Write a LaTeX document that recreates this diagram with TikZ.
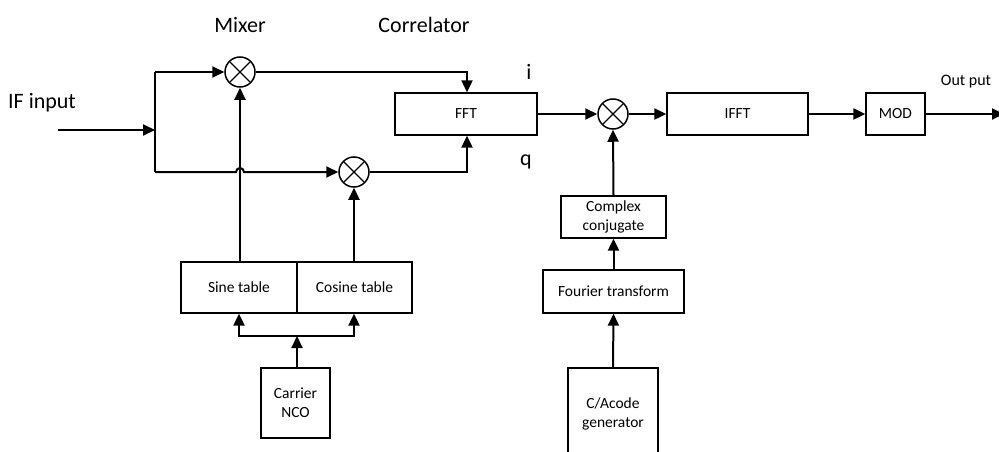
\documentclass[tikz,border=0pt]{standalone}
\usepackage{fontspec}
\setmainfont{Carlito}
\usetikzlibrary{arrows.meta}
\tikzset{
  x=1pt, y=-1pt,
  blk/.style={draw, line width=1.3pt, rectangle, inner sep=0pt, align=center,
    font=\fontsize{15.5}{19}\selectfont},
  mixer/.style={draw, line width=1.5pt, circle, minimum size=30pt, inner sep=0pt,
    path picture={
      \draw[line width=1.3pt] (path picture bounding box.north west) -- (path picture bounding box.south east);
      \draw[line width=1.3pt] (path picture bounding box.south west) -- (path picture bounding box.north east);
    }},
  wire/.style={line width=2pt},
  sig/.style={wire, -{Triangle[length=12pt,width=11pt]}},
  big/.style={font=\fontsize{22}{26}\selectfont},
}
\begin{document}
\begin{tikzpicture}
\useasboundingbox (0,0) rectangle (999,452);

% mixers
\node[mixer] (mix1) at (240,72) {};
\node[mixer] (mix2) at (354,172) {};
\node[mixer] (mix3) at (613,114) {};

% processing blocks
\node[blk, minimum width=142pt, minimum height=42pt] (fft) at (466,114) {FFT};
\node[blk, minimum width=141pt, minimum height=42pt] (ifft) at (737.5,114) {IFFT};
\node[blk, minimum width=59pt, minimum height=42pt] (mod) at (895.5,114) {MOD};
\node[blk, minimum width=105pt, minimum height=42pt] (cc) at (613.5,217) {Complex\\conjugate};
\node[blk, minimum width=141pt, minimum height=43pt] (ft) at (613.5,291.5) {Fourier transform};
\node[blk, minimum width=90pt, minimum height=92pt] (ca) at (613,414) {C/Acode\\generator};
\node[blk, minimum width=116pt, minimum height=51pt] (sine) at (239,287.5) {Sine table};
\node[blk, minimum width=115pt, minimum height=51pt] (cosine) at (354.5,287.5) {Cosine table};
\node[blk, minimum width=69pt, minimum height=70pt] (nco) at (295.5,403) {Carrier\\NCO};

% labels
\node[big] (lmix) at (240,25) {Mixer};
\node[big] (lcor) at (424,25) {Correlator};
\node[big] (lif) at (42,103) {IF input};
\node[big] (li) at (529,72) {i};
\node[big] (lq) at (526,162) {q};
\node[font=\fontsize{16}{19}\selectfont] (lout) at (966,82) {Out put};

% junction points
\coordinate (in) at (58,130);
\coordinate (split) at (155,130);
\coordinate (top) at (155,72);
\coordinate (bot) at (155,172);
\coordinate (out) at (1004,114);
\coordinate (ncoj) at (297,336);

% IF input split into the two branches
\draw[sig] (in) -- (split);
\draw[wire] (top) -- (bot);
\draw[sig] (top) -- (mix1.west);
\draw[sig] (bot) -- (236,172) arc[start angle=180, end angle=360, radius=4] -- (mix2.west);

% local oscillator paths
\draw[sig] (sine.north -| mix1) -- (mix1.south);
\draw[sig] (cosine.north -| mix2) -- (mix2.south);
\draw[sig] (nco.north -| ncoj) -- (ncoj);
\draw[sig] (ncoj) -- (239,336) -- (sine.south -| 239,0);
\draw[sig] (ncoj) -- (354,336) -- (cosine.south -| 354,0);

% correlator inputs
\draw[sig] (mix1.east) -- (467,72) -- (fft.north -| 467,0);
\draw[sig] (mix2.east) -- (467,172) -- (fft.south -| 467,0);

% main chain
\draw[sig] (fft.east) -- (mix3.west);
\draw[sig] (mix3.east) -- (ifft.west);
\draw[sig] (ifft.east) -- (mod.west);
\draw[sig] (mod.east) -- (out);

% local code path
\draw[sig] (cc.north) -- (mix3.south);
\draw[sig] (ft.north) -- (cc.south);
\draw[sig] (ca.north) -- (ft.south);
\end{tikzpicture}
\end{document}
